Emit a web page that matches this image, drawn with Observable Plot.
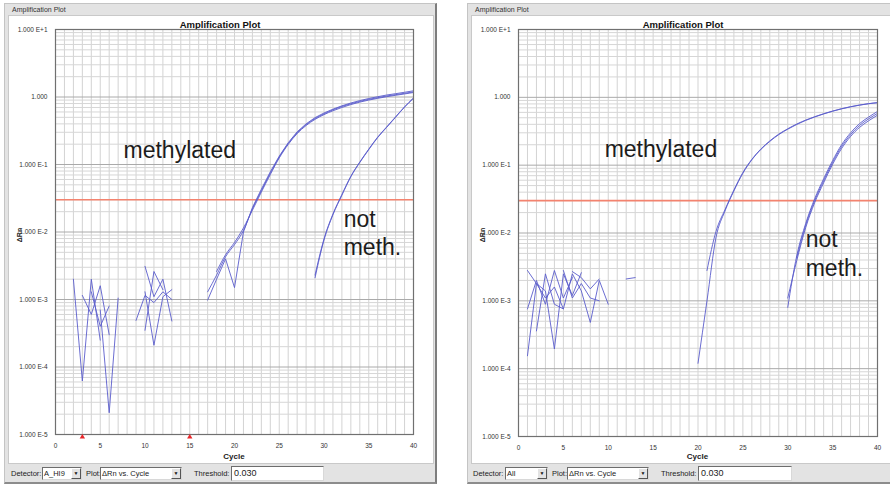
<!DOCTYPE html>
<html><head><meta charset="utf-8">
<script src="https://cdn.jsdelivr.net/npm/d3@7"></script>
<script src="https://cdn.jsdelivr.net/npm/@observablehq/plot@0.6"></script>
<style>
body{margin:0;background:#fff;font-family:"Liberation Sans",Arial,sans-serif;}
#root{position:relative;width:890px;height:487px;overflow:hidden;background:#fff;}
.abs{position:absolute;white-space:nowrap;}
svg.plot{position:absolute;top:0;}
</style>
</head><body><div id="root"></div>
<script>
// ---------- data ----------
const xTicks = [0, 5, 10, 15, 20, 25, 30, 35, 40];
const yTicks = [1e-5, 1e-4, 1e-3, 1e-2, 1e-1, 1, 10];
const yTickLabels = ["1.000 E-5", "1.000 E-4", "1.000 E-3", "1.000 E-2", "1.000 E-1", "1.000", "1.000 E+1"];
const threshold = 0.030;

// left panel (Detector A_HI9): [cycle, ΔRn]
const leftNoise1 = [[2,2.0e-3],[3,6.2e-5],[4,2.0e-3],[5,2.5e-4]];
const leftNoise2 = [[3,1.15e-3],[4,6.0e-4],[5,1.6e-3],[6,3.0e-4]];
const leftNoise3 = [[4,1.3e-3],[5,4.0e-4],[6,8.0e-4]];
const leftNoise4 = [[5,7.0e-4],[6,2.1e-5],[7,1.05e-3]];
const leftNoise5 = [[9,4.9e-4],[10,1.15e-3],[11,9.0e-4],[12,1.3e-3],[13,1.0e-3]];
const leftNoise6 = [[10,3.1e-3],[11,1.1e-3],[12,2.0e-3],[13,4.8e-4]];
const leftNoise7 = [[10,3.5e-4],[11,2.6e-3],[12,1.4e-3]];
const leftNoise8 = [[10,1.3e-3],[11,2.1e-4],[12,1.1e-3],[13,1.4e-3]];
const leftMeth1 = [[17,1.3e-3],[18,2.3e-3],[19,4.3e-3],[20,6.5e-3],[21,1.05e-2],[22,2.2e-2],[23,4.1e-2],[24,7.4e-2],[25,0.129],[26,0.204],[27,0.295],[28,0.389],[29,0.479],[30,0.562],[31,0.646],[32,0.724],[33,0.794],[34,0.861],[35,0.923],[36,0.977],[37,1.035],[38,1.084],[39,1.135],[40,1.19]];
const leftMeth2 = [[17,9.8e-4],[18,2.0e-3],[19,4.0e-3],[20,1.5e-3],[21,1.0e-2],[22,2.3e-2],[23,4.3e-2],[24,7.8e-2],[25,0.133],[26,0.21],[27,0.305],[28,0.40],[29,0.495],[30,0.58],[31,0.66],[32,0.74],[33,0.815],[34,0.885],[35,0.95],[36,1.01],[37,1.07],[38,1.12],[39,1.175],[40,1.235]];
const leftMeth3 = [[18,2.6e-3],[19,4.6e-3],[20,7.0e-3],[21,1.15e-2],[22,2.1e-2],[23,3.9e-2],[24,7.1e-2],[25,0.125],[26,0.198],[27,0.287],[28,0.378],[29,0.466],[30,0.548],[31,0.625],[32,0.70],[33,0.772],[34,0.84],[35,0.90],[36,0.955],[37,1.01],[38,1.06],[39,1.11],[40,1.165]];
const leftNotMeth1 = [[29,2.1e-3],[30,7.6e-3],[31,1.8e-2],[32,3.5e-2],[33,6.6e-2],[34,0.107],[35,0.166],[36,0.251],[37,0.355],[38,0.501],[39,0.708],[40,0.955]];
const leftNotMeth2 = [[29,2.3e-3],[30,7.9e-3],[31,1.85e-2],[32,3.6e-2],[33,6.7e-2],[34,0.109],[35,0.169],[36,0.255],[37,0.36],[38,0.508],[39,0.715],[40,0.97]];
const leftMarkers = [3, 15];
const leftLabels = [
  {label: "methylated", cycle: 7.6, value: 0.126},
  {label: "not", cycle: 32.2, value: 0.0118},
  {label: "meth.", cycle: 32.2, value: 0.0045}
];

// right panel (Detector All)
const rightNoise1 = [[1,7.6e-4],[2,2.0e-3],[3,8.9e-4],[4,2.8e-3],[5,1.1e-3],[6,2.2e-3]];
const rightNoise2 = [[1,1.55e-4],[2,1.8e-3],[3,1.4e-3],[4,1.95e-4],[5,2.5e-3],[6,1.2e-3],[7,2.6e-3]];
const rightNoise3 = [[1,2.8e-3],[2,1.8e-3],[3,1.1e-3],[4,1.6e-3],[5,7.6e-4],[6,2.5e-3],[7,1.4e-3],[8,4.8e-4],[9,2.0e-3],[10,8.9e-4]];
const rightNoise4 = [[2,3.6e-4],[3,2.5e-3],[4,8.9e-4],[5,7.6e-4]];
const rightNoise5 = [[5,2.8e-3],[6,1.1e-3],[7,1.8e-3],[8,1.1e-3],[9,1.0e-3]];
const rightNoise6 = [[6,2.7e-3],[7,2.2e-3],[8,1.5e-3],[9,2.1e-3]];
const rightNoise7 = [[12,2.1e-3],[13,2.2e-3]];
const rightMeth1 = [[20,1.2e-4],[21,1.0e-3],[22,8.5e-3],[23,2.1e-2],[24,4.17e-2],[25,7.59e-2],[26,0.120],[27,0.170],[28,0.224],[29,0.282],[30,0.339],[31,0.398],[32,0.457],[33,0.513],[34,0.569],[35,0.624],[36,0.676],[37,0.724],[38,0.767],[39,0.804],[40,0.832]];
const rightMeth2 = [[21,2.8e-3],[22,1.05e-2],[23,2.2e-2],[24,4.3e-2],[25,7.8e-2],[26,0.122],[27,0.173],[28,0.228],[29,0.287],[30,0.344],[31,0.404],[32,0.462],[33,0.518],[34,0.573],[35,0.628],[36,0.68],[37,0.728],[38,0.77],[39,0.807],[40,0.835]];
const rightNotMeth1 = [[30,8.0e-4],[31,4.6e-3],[32,1.38e-2],[33,3.2e-2],[34,6.3e-2],[35,0.117],[36,0.20],[37,0.30],[38,0.41],[39,0.51],[40,0.62]];
const rightNotMeth2 = [[30,1.1e-3],[31,3.9e-3],[32,1.2e-2],[33,2.8e-2],[34,5.5e-2],[35,0.103],[36,0.176],[37,0.265],[38,0.36],[39,0.45],[40,0.545]];
const rightNotMeth3 = [[31,4.3e-3],[32,1.3e-2],[33,3.0e-2],[34,5.9e-2],[35,0.11],[36,0.188],[37,0.282],[38,0.385],[39,0.48],[40,0.58]];
const rightMarkers = [];
const rightLabels = [
  {label: "methylated", cycle: 9.6, value: 0.131},
  {label: "not", cycle: 32.0, value: 0.00615},
  {label: "meth.", cycle: 32.0, value: 0.00236}
];

// jagged (raw) traces vs. smooth amplification traces
const leftJagged = [leftNoise1,leftNoise2,leftNoise3,leftNoise4,leftNoise5,leftNoise6,leftNoise7,leftNoise8,leftMeth2];
const leftSmooth = [leftMeth1,leftMeth3,leftNotMeth1,leftNotMeth2];
const rightJagged = [rightNoise1,rightNoise2,rightNoise3,rightNoise4,rightNoise5,rightNoise6,rightNoise7];
const rightSmooth = [rightMeth1,rightMeth2,rightNotMeth1,rightNotMeth2,rightNotMeth3];

// ---------- drawing ----------
const root = document.getElementById("root");
const FONT = "'Liberation Sans', Arial, sans-serif";
function el(style, text, cls = "abs") {
  const d = document.createElement("div");
  d.className = cls;
  Object.assign(d.style, style);
  if (text != null) d.textContent = text;
  root.appendChild(d);
  return d;
}
const gridCycles = d3.range(0, 41);
const minorY = [];
for (let e = -5; e <= 0; e++) for (let m = 2; m <= 9; m++) minorY.push(m * Math.pow(10, e));

function chrome(x0, plotL, plotR, controls) {
  el({left: x0 + "px", top: "3px", width: "433px", height: "481px", background: "#e3e3e3",
      borderLeft: "1px solid #c4c4c4", borderTop: "1px solid #c4c4c4", borderRight: "2px solid #7d7d7d", borderBottom: "2px solid #8c8c8c", boxSizing: "border-box"});
  el({left: (x0 + 4) + "px", top: "15px", width: "426px", height: "449px", background: "#fff", border: "1px solid #c9c9c9", boxSizing: "border-box"});
  el({left: (x0 + 7) + "px", top: "6px", fontSize: "7px", lineHeight: "8px", color: "#333", background: "#e3e3e3", padding: "0 1px"}, "Amplification Plot");
  el({left: (x0 + 216) + "px", top: "20px", transform: "translateX(-50%)", fontSize: "9.5px", fontWeight: "bold", lineHeight: "10px", color: "#111"}, "Amplification Plot");
  el({left: (x0 + 9) + "px", top: "231px", transform: "rotate(-90deg)", transformOrigin: "center", fontSize: "7px", fontWeight: "bold", lineHeight: "8px", color: "#222"}, "ΔRn");
  el({left: ((plotL + plotR) / 2) + "px", top: "452px", transform: "translateX(-50%)", fontSize: "8px", fontWeight: "bold", lineHeight: "9px", color: "#222"}, "Cycle");
  const cy = 467;
  el({left: controls.det + "px", top: (cy + 2) + "px", fontSize: "7.5px", color: "#222"}, "Detector:");
  combo(controls.detBox, controls.detW, controls.detText);
  el({left: controls.plot + "px", top: (cy + 2) + "px", fontSize: "7.5px", color: "#222"}, "Plot:");
  combo(controls.plotBox, controls.plotW, "ΔRn vs. Cycle");
  el({left: controls.thr + "px", top: (cy + 2) + "px", fontSize: "7.5px", color: "#222"}, "Threshold:");
  el({left: controls.inBox + "px", top: (cy - 1) + "px", width: controls.inW + "px", height: "15px", background: "#fff",
      borderTop: "1px solid #6d6d6d", borderLeft: "1px solid #6d6d6d", borderRight: "1px solid #d8d8d8", borderBottom: "1px solid #d8d8d8", boxSizing: "border-box",
      fontSize: "9px", lineHeight: "13px", paddingLeft: "2px", color: "#222"}, "0.030");
}
function combo(x, w, text) {
  const cy = 467;
  el({left: x + "px", top: cy + "px", width: w + "px", height: "13px", background: "#fff",
      borderTop: "1px solid #6d6d6d", borderLeft: "1px solid #6d6d6d", borderRight: "1px solid #d8d8d8", borderBottom: "1px solid #d8d8d8", boxSizing: "border-box",
      fontSize: "7.5px", lineHeight: "11px", paddingLeft: "1px", color: "#222", overflow: "hidden"}, text);
  el({left: (x + w - 11) + "px", top: (cy + 1) + "px", width: "10px", height: "11px", background: "#e3e3e3",
      borderTop: "1px solid #fff", borderLeft: "1px solid #fff", borderRight: "1px solid #555", borderBottom: "1px solid #555", boxSizing: "border-box",
      fontSize: "5px", lineHeight: "9px", textAlign: "center", color: "#111"}, "▼");
}

function panelPlot(jagged, smooth, labels, markers, m) {
  const lineOpts = {x: d => d[0], y: d => d[1], stroke: "#5b5dcc", strokeWidth: 1, strokeOpacity: 0.9};
  const svg = Plot.plot({
    width: 445, height: 487,
    marginLeft: m.l, marginRight: m.r, marginTop: m.t, marginBottom: m.b,
    style: {background: "transparent", fontFamily: FONT, fontSize: "6.5px", color: "#333", overflow: "visible"},
    x: {domain: [0, 40], ticks: xTicks, tickSize: 0, tickPadding: 9, label: null},
    y: {type: "log", domain: [1e-5, 10], ticks: yTicks,
        tickFormat: d => yTickLabels[Math.round(Math.log10(d)) + 5], tickSize: 0, tickPadding: 8, label: null},
    marks: [
      Plot.ruleX(gridCycles, {stroke: "#d3d3d3", strokeWidth: 1}),
      Plot.ruleY(minorY, {stroke: "#d6d6d6", strokeWidth: 1}),
      Plot.ruleY(yTicks, {stroke: "#aaaaaa", strokeWidth: 1}),
      Plot.ruleY([threshold], {stroke: "#f3836f", strokeWidth: 1.6}),
      ...jagged.map(s => Plot.line(s, {...lineOpts, curve: "linear"})),
      ...smooth.map(s => Plot.line(s, {...lineOpts, curve: "monotone-x"})),
      Plot.frame({stroke: "#707070", strokeWidth: 1.2}),
      Plot.dot(markers, {x: d => d, y: () => 1e-5, dy: 2.5, symbol: "triangle", r: 2, fill: "#e8262a", stroke: "none"}),
      Plot.text(labels, {x: "cycle", y: "value", text: "label", textAnchor: "start", lineAnchor: "bottom",
        fontSize: 23, fontFamily: FONT, fill: "#1c1c1c"})
    ]
  });
  svg.classList.add("plot");
  return svg;
}

chrome(4, 55, 413, {det: 11, detBox: 42, detW: 40, detText: "A_HI9", plot: 86, plotBox: 100, plotW: 82, thr: 194, inBox: 231, inW: 93});
chrome(467, 518, 877, {det: 473, detBox: 505, detW: 43, detText: "All", plot: 552, plotBox: 567, plotW: 82, thr: 661, inBox: 698, inW: 94});

const s1 = panelPlot(leftJagged, leftSmooth, leftLabels, leftMarkers, {l: 55, r: 32, t: 29, b: 53});
s1.style.left = "0px";
root.appendChild(s1);
const s2 = panelPlot(rightJagged, rightSmooth, rightLabels, rightMarkers, {l: 73, r: 13, t: 29, b: 51});
s2.style.left = "445px";
root.appendChild(s2);
</script>
</body></html>
